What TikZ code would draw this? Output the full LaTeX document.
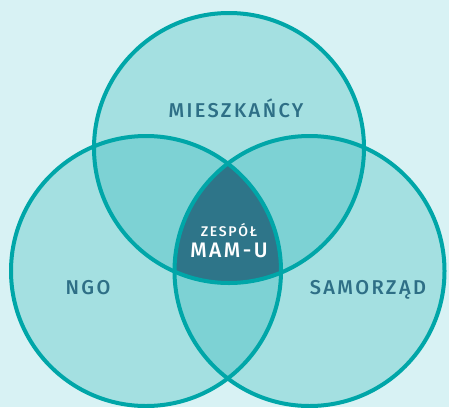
\documentclass[tikz,border=0pt]{standalone}
\usepackage{fontspec}
\newfontfamily\lblfont[LetterSpace=12]{Fira Sans Medium}
\definecolor{bgc}{HTML}{D8F2F4}
\definecolor{basec}{HTML}{A4E0E1}
\definecolor{ovlc}{HTML}{7DD2D4}
\definecolor{corec}{HTML}{2E7589}
\definecolor{strokec}{HTML}{00A6A8}
\definecolor{textc}{HTML}{2E6F86}
\begin{document}
\begin{tikzpicture}[x=1pt,y=-1pt,
  ring/.style={draw=strokec,line width=4pt},
  lbl/.style={font=\lblfont\fontsize{20}{20}\selectfont,text=textc,inner sep=0pt,anchor=base},
  corelbl/.style={font=\lblfont\fontsize{#1}{#1}\selectfont,text=white,inner sep=0pt,anchor=base}]
\fill[bgc] (0,0) rectangle (449,407);
\useasboundingbox (0,0) rectangle (449,407);
\coordinate (T) at (229,148);
\coordinate (L) at (146,271);
\coordinate (R) at (309.5,271);
\def\rad{135pt}
% base fills
\fill[basec] (T) circle[radius=\rad];
\fill[basec] (L) circle[radius=\rad];
\fill[basec] (R) circle[radius=\rad];
% pairwise overlaps
\begin{scope}
  \clip (T) circle[radius=\rad];
  \fill[ovlc] (L) circle[radius=\rad];
  \fill[ovlc] (R) circle[radius=\rad];
\end{scope}
\begin{scope}
  \clip (L) circle[radius=\rad];
  \fill[ovlc] (R) circle[radius=\rad];
\end{scope}
% triple overlap
\begin{scope}
  \clip (T) circle[radius=\rad];
  \clip (L) circle[radius=\rad];
  \fill[corec] (R) circle[radius=\rad];
\end{scope}
% outlines
\draw[ring] (T) circle[radius=\rad];
\draw[ring] (L) circle[radius=\rad];
\draw[ring] (R) circle[radius=\rad];
% labels
\node[lbl] (mieszkancy) at (236,117) {MIESZKAŃCY};
\node[lbl] (ngo) at (88,294) {NGO};
\node[lbl] (samorzad) at (368,294) {SAMORZĄD};
\node[corelbl=14] (zespol) at (229,236) {ZESPÓŁ};
\node[corelbl=21] (mamu) at (229,257) {MAM-U};
\end{tikzpicture}
\end{document}
